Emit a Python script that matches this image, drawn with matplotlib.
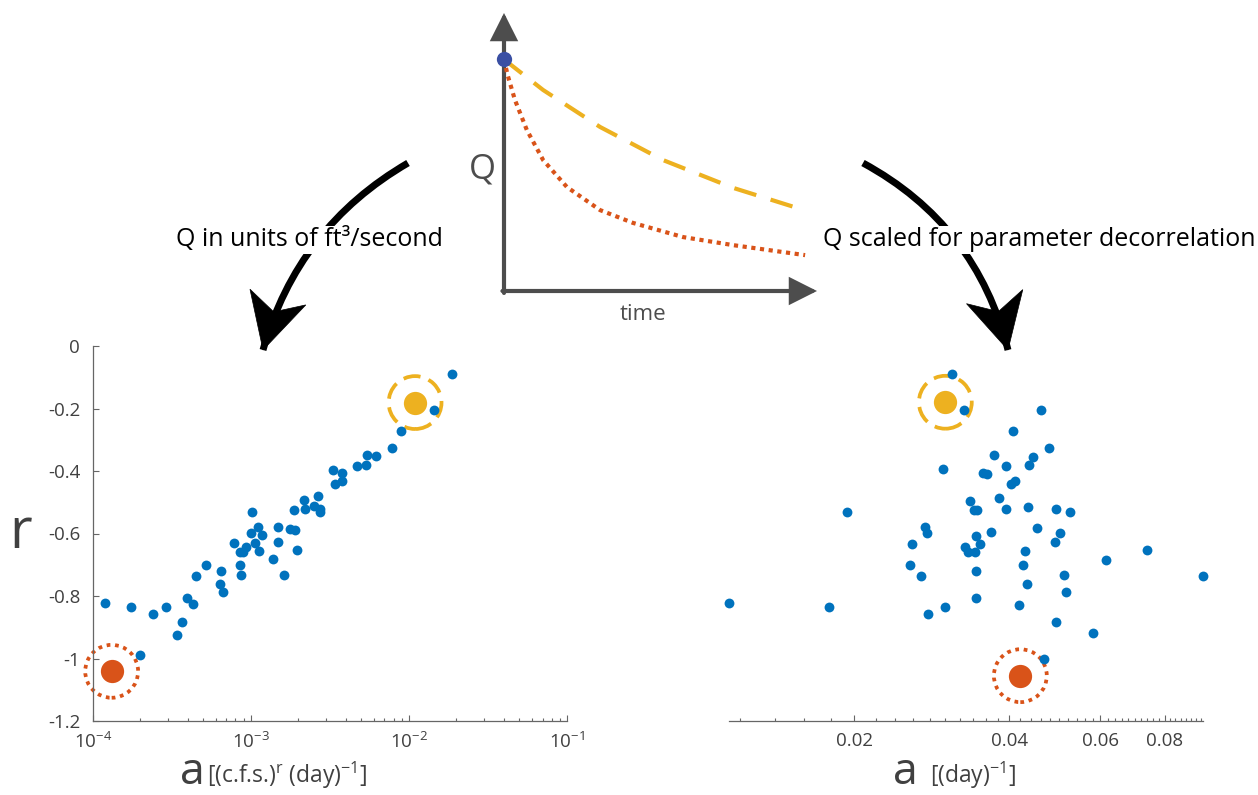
import numpy as np
import matplotlib
matplotlib.use("Agg")
import matplotlib.pyplot as plt
from matplotlib.patches import PathPatch, Polygon, FancyArrowPatch
from matplotlib.path import Path
from matplotlib.ticker import FixedLocator, FuncFormatter, LogLocator, NullFormatter

# ---------------- data ----------------
r_values = [-0.821, -0.835, -0.856, -0.835, -0.989, -0.926, -0.884, -0.806, -0.827, -0.737,
            -0.701, -0.719, -0.761, -0.786, -0.631, -0.701, -0.733, -0.660, -0.660, -0.643,
            -0.531, -0.598, -0.631, -0.579, -0.655, -0.606, -0.683, -0.580, -0.628, -0.733,
            -0.584, -0.590, -0.652, -0.524, -0.494, -0.520, -0.512, -0.481, -0.522, -0.530,
            -0.397, -0.406, -0.443, -0.433, -0.383, -0.380, -0.349, -0.352, -0.325, -0.271,
            -0.205, -0.090]
a_cfs = [1.20e-4, 1.75e-4, 2.42e-4, 2.90e-4, 1.99e-4, 3.41e-4, 3.66e-4, 3.93e-4, 4.29e-4, 4.52e-4,
         5.22e-4, 6.44e-4, 6.35e-4, 6.67e-4, 7.78e-4, 8.57e-4, 8.71e-4, 8.57e-4, 8.95e-4, 9.27e-4,
         1.016e-3, 1.007e-3, 1.057e-3, 1.109e-3, 1.125e-3, 1.180e-3, 1.380e-3, 1.489e-3, 1.489e-3, 1.618e-3,
         1.782e-3, 1.910e-3, 1.954e-3, 1.884e-3, 2.178e-3, 2.198e-3, 2.518e-3, 2.655e-3, 2.735e-3, 2.748e-3,
         3.319e-3, 3.767e-3, 3.420e-3, 3.767e-3, 4.688e-3, 5.333e-3, 5.395e-3, 6.237e-3, 7.798e-3, 8.851e-3,
         1.436e-2, 1.875e-2]

a_scaled = [0.01142, 0.01787, 0.01936, 0.02566, 0.02593, 0.02693, 0.02746, 0.02763, 0.02775, 0.02999,
            0.02972, 0.03090, 0.03271, 0.03275, 0.03324, 0.03424, 0.03439, 0.03507, 0.03439, 0.03439,
            0.03357, 0.03408, 0.03454, 0.03559, 0.03613, 0.03684, 0.03734, 0.03813, 0.03945, 0.03945,
            0.04022, 0.04094, 0.04058, 0.04181, 0.04244, 0.04288, 0.04332, 0.04345, 0.04371, 0.04437,
            0.04523, 0.04612, 0.04660, 0.04765, 0.04909, 0.04931, 0.04931, 0.05005, 0.05111, 0.05157,
            0.05234, 0.05808, 0.06155, 0.07410, 0.09497]
r_scaled = [-0.821, -0.835, -0.531, -0.701, -0.632, -0.737, -0.579, -0.598, -0.856, -0.835,
            -0.394, -0.090, -0.205, -0.643, -0.660, -0.660, -0.607, -0.632, -0.720, -0.806,
            -0.496, -0.524, -0.524, -0.405, -0.409, -0.594, -0.349, -0.485, -0.383, -0.520,
            -0.442, -0.432, -0.272, -0.828, -0.702, -0.657, -0.762, -0.514, -0.380, -0.356,
            -0.583, -0.205, -1.002, -0.325, -0.628, -0.520, -0.884, -0.597, -0.733, -0.786,
            -0.531, -0.918, -0.684, -0.652, -0.737]

# highlighted (slow / fast recession) parameter sets
hi_left_a = [1.094e-2, 1.318e-4]
hi_left_r = [-0.181, -1.041]
hi_right_a = [0.03003, 0.04199]
hi_right_r = [-0.180, -1.055]

# schematic recession curves (time, Q) in relative units
sch_t_slow = [0.0, 0.125, 0.307, 0.508, 0.732, 0.936]
sch_q_slow = [0.833, 0.723, 0.590, 0.471, 0.371, 0.299]
sch_t_fast = [0.0, 0.012, 0.035, 0.073, 0.125, 0.201, 0.307, 0.412, 0.572, 0.732, 0.962]
sch_q_fast = [0.833, 0.775, 0.687, 0.579, 0.471, 0.374, 0.291, 0.245, 0.194, 0.165, 0.129]

left_xticks = [1e-4, 1e-3, 1e-2, 1e-1]
left_yticks = [0, -0.2, -0.4, -0.6, -0.8, -1.0, -1.2]
right_xticks = [0.02, 0.04, 0.06, 0.08]

# ---------------- style ----------------
FONT = "Open Sans"
plt.rcParams["font.family"] = [FONT, "DejaVu Sans"]
plt.rcParams["axes.unicode_minus"] = False
plt.rcParams["mathtext.fontset"] = "custom"
plt.rcParams["mathtext.rm"] = FONT
plt.rcParams["mathtext.it"] = FONT + ":italic"
plt.rcParams["mathtext.bf"] = FONT + ":bold"

BLUE = "#0072BD"
ORANGE = "#D95319"
YELLOW = "#EDB120"
AXC = "#666666"
TXC = "#404040"
SCH = "#4D4D4D"

W, H = 1258, 795
fig = plt.figure(figsize=(W / 100, H / 100), dpi=100)


def px_axes(x0, y0, x1, y1):
    """axes from pixel box (x0,y0 top-left; x1,y1 bottom-right)"""
    return fig.add_axes([x0 / W, (H - y1) / H, (x1 - x0) / W, (y1 - y0) / H])


def style_axes(ax):
    for s in ["top", "right"]:
        ax.spines[s].set_visible(False)
    for s in ["left", "bottom"]:
        ax.spines[s].set_color(AXC)
        ax.spines[s].set_linewidth(0.9)
    ax.tick_params(which="both", direction="in", colors=AXC, labelcolor=TXC,
                   labelsize=13.5, width=0.8)
    ax.tick_params(which="major", length=4)
    ax.tick_params(which="minor", length=2.3)
    ax.set_facecolor("none")


RING_DASH = (0, (4.6, 2.3))
RING_DOT = (0, (1.0, 1.25))


def highlight(ax, xs, ys):
    ax.scatter(xs[:1], ys[:1], s=1450, facecolors="none", edgecolors=YELLOW,
               linewidths=2.7, linestyles=RING_DASH, zorder=2, clip_on=False)
    ax.scatter(xs[1:], ys[1:], s=1450, facecolors="none", edgecolors=ORANGE,
               linewidths=2.7, linestyles=RING_DOT, zorder=2, clip_on=False)
    ax.scatter(xs[:1], ys[:1], s=280, color=YELLOW, linewidths=0, zorder=2)
    ax.scatter(xs[1:], ys[1:], s=280, color=ORANGE, linewidths=0, zorder=2)


# ---------------- left scatter ----------------
axL = px_axes(92.7, 346, 567, 721)
style_axes(axL)
axL.set_xscale("log")
axL.set_xlim(1e-4, 1e-1)
axL.set_ylim(-1.2, 0)
axL.xaxis.set_major_locator(FixedLocator(left_xticks))
axL.xaxis.set_minor_locator(LogLocator(base=10, subs=np.arange(2, 10)))
axL.xaxis.set_minor_formatter(NullFormatter())
axL.xaxis.set_major_formatter(FuncFormatter(
    lambda v, p: r"$\mathregular{10^{%d}}$" % int(round(np.log10(v)))))
axL.yaxis.set_major_locator(FixedLocator(left_yticks))
axL.yaxis.set_major_formatter(FuncFormatter(lambda v, p: "%g" % v))
axL.tick_params(axis="x", pad=8)
axL.tick_params(axis="y", pad=9)

highlight(axL, hi_left_a, hi_left_r)
axL.scatter(a_cfs, r_values, s=50, color=BLUE, linewidths=0, zorder=3, clip_on=False)

# ---------------- right scatter ----------------
axR = px_axes(729, 346, 1203, 721)
style_axes(axR)
axR.spines["left"].set_visible(False)
axR.tick_params(axis="y", which="both", left=False, labelleft=False)
axR.set_xscale("log")
axR.set_xlim(0.01142, 0.0950)
axR.set_ylim(-1.2, 0)
axR.xaxis.set_major_locator(FixedLocator(right_xticks))
axR.xaxis.set_minor_locator(FixedLocator(np.arange(0.012, 0.0945, 0.002)))
axR.xaxis.set_minor_formatter(NullFormatter())
axR.xaxis.set_major_formatter(FuncFormatter(lambda v, p: "%.2f" % v))
axR.tick_params(axis="x", pad=8)

highlight(axR, hi_right_a, hi_right_r)
axR.scatter(a_scaled, r_scaled, s=50, color=BLUE, linewidths=0, zorder=3, clip_on=False)

# ---------------- schematic ----------------
axS = px_axes(504, 13, 817, 291)
axS.set_xlim(0, 1)
axS.set_ylim(0, 1)
axS.axis("off")
for start, end in [((0, -0.007), (0, 1)), ((-0.005, 0), (1, 0))]:
    arr = FancyArrowPatch(start, end, arrowstyle="-|>,head_length=1.55,head_width=0.78",
                          mutation_scale=10, color=SCH, linewidth=3.0,
                          shrinkA=0, shrinkB=0, clip_on=False, joinstyle="miter")
    axS.add_patch(arr)
axS.plot(sch_t_slow, sch_q_slow, color=YELLOW, lw=3.0, linestyle=(0, (5.5, 3.6)),
         dash_capstyle="butt", clip_on=False, zorder=3)
axS.plot(sch_t_fast, sch_q_fast, color=ORANGE, lw=3.0, linestyle=(0, (1.0, 1.1)),
         dash_capstyle="butt", clip_on=False, zorder=3)
axS.plot([0], [sch_q_slow[0]], "o", color="#3A4FA3", markersize=11, markeredgewidth=0,
         clip_on=False, zorder=5)

# ---------------- overlay (arrows, labels) ----------------
ov = fig.add_axes([0, 0, 1, 1], zorder=10)
ov.set_xlim(0, W)
ov.set_ylim(H, 0)
ov.axis("off")
ov.patch.set_alpha(0)


def curved_arrow(p0, c, p2, L=55, Wd=29):
    path = Path([p0, c, p2], [Path.MOVETO, Path.CURVE3, Path.CURVE3])
    ov.add_patch(PathPatch(path, fc="none", ec="black", lw=5.0, capstyle="butt"))
    p2 = np.array(p2, float)
    u = p2 - np.array(c, float)
    u /= np.hypot(*u)
    n = np.array([-u[1], u[0]])
    back = p2 - L * u
    pts = [p2, back + Wd * n, p2 - 0.72 * L * u, back - Wd * n]
    ov.add_patch(Polygon(pts, closed=True, fc="black", ec="black", lw=0.5))


curved_arrow((408, 163), (297.6, 227.1), (263, 350))
curved_arrow((863, 163), (976.6, 224.6), (1008, 350))

ov.text(309, 240, "Q in units of ft³/second", ha="center", va="center", fontsize=18,
        color="black", bbox=dict(fc="white", ec="none", pad=1.0))
ov.text(823, 240, "Q scaled for parameter decorrelation", ha="left", va="center",
        fontsize=18, color="black", bbox=dict(fc="white", ec="none", pad=1.0))

ov.text(482, 170, "Q", ha="center", va="center", fontsize=25, color=SCH)
ov.text(643, 314, "time", ha="center", va="center", fontsize=16, color=SCH)

# axis labels
ov.text(21, 533, "r", ha="center", va="center", fontsize=40, color=TXC)
ov.text(180, 784, "a", ha="left", va="baseline", fontsize=32, color=TXC)
ov.text(207, 783, r"[(c.f.s.)$\mathregular{^r}$ (day)$\mathregular{^{-1}}$]", ha="left",
        va="baseline", fontsize=16.5, color=TXC)
ov.text(893, 784, "a", ha="left", va="baseline", fontsize=32, color=TXC)
ov.text(930, 783, r"[(day)$\mathregular{^{-1}}$]", ha="left", va="baseline",
        fontsize=16.5, color=TXC)

fig.savefig("out.png", dpi=100)
